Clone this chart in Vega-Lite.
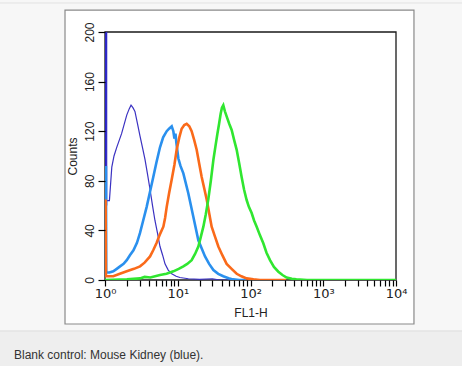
{
  "$schema": "https://vega.github.io/schema/vega-lite/v6.json",
  "width": 291,
  "height": 248,
  "autosize": {"type": "none"},
  "padding": {"left": 105, "top": 32, "right": 66, "bottom": 86},
  "background": "#f7f7f7",
  "config": {
    "view": {"stroke": null},
    "axis": {"domain": false, "grid": false, "tickColor": "#000", "labelColor": "#222", "titleColor": "#222", "labelFont": "Liberation Sans", "titleFont": "Liberation Sans", "titleFontWeight": "normal"}
  },
  "datasets": {
    "one": [{"k": 1}],
    "hist": [
      {"s": "edge", "x": 1.03, "c": 60}, {"s": "edge", "x": 1.031, "c": 215},
      {"s": "blank", "x": 1.03, "c": 215}, {"s": "blank", "x": 1.045, "c": 64}, {"s": "blank", "x": 1.15, "c": 64}, {"s": "blank", "x": 1.24, "c": 91}, {"s": "blank", "x": 1.33, "c": 100}, {"s": "blank", "x": 1.45, "c": 107}, {"s": "blank", "x": 1.69, "c": 118}, {"s": "blank", "x": 1.99, "c": 133}, {"s": "blank", "x": 2.15, "c": 138}, {"s": "blank", "x": 2.28, "c": 141}, {"s": "blank", "x": 2.42, "c": 139}, {"s": "blank", "x": 2.58, "c": 136}, {"s": "blank", "x": 2.8, "c": 126}, {"s": "blank", "x": 3.03, "c": 116}, {"s": "blank", "x": 3.3, "c": 106}, {"s": "blank", "x": 3.55, "c": 97}, {"s": "blank", "x": 3.85, "c": 85}, {"s": "blank", "x": 4.16, "c": 73}, {"s": "blank", "x": 4.5, "c": 60}, {"s": "blank", "x": 4.86, "c": 48}, {"s": "blank", "x": 5.3, "c": 37}, {"s": "blank", "x": 5.7, "c": 27}, {"s": "blank", "x": 6.2, "c": 20}, {"s": "blank", "x": 6.68, "c": 13}, {"s": "blank", "x": 7.4, "c": 8}, {"s": "blank", "x": 8.26, "c": 5}, {"s": "blank", "x": 9.5, "c": 3}, {"s": "blank", "x": 10.7, "c": 2}, {"s": "blank", "x": 14, "c": 1}, {"s": "blank", "x": 20, "c": 0.5}, {"s": "blank", "x": 30, "c": 1}, {"s": "blank", "x": 38, "c": 0}, {"s": "blank", "x": 100, "c": 0},
      {"s": "iso", "x": 1.03, "c": 92}, {"s": "iso", "x": 1.04, "c": 6}, {"s": "iso", "x": 1.15, "c": 6}, {"s": "iso", "x": 1.3, "c": 7}, {"s": "iso", "x": 1.45, "c": 9}, {"s": "iso", "x": 1.61, "c": 11}, {"s": "iso", "x": 1.8, "c": 13}, {"s": "iso", "x": 1.99, "c": 16}, {"s": "iso", "x": 2.2, "c": 20}, {"s": "iso", "x": 2.46, "c": 24}, {"s": "iso", "x": 2.75, "c": 30}, {"s": "iso", "x": 3.03, "c": 38}, {"s": "iso", "x": 3.35, "c": 48}, {"s": "iso", "x": 3.74, "c": 59}, {"s": "iso", "x": 4.15, "c": 71}, {"s": "iso", "x": 4.61, "c": 83}, {"s": "iso", "x": 5.1, "c": 95}, {"s": "iso", "x": 5.7, "c": 107}, {"s": "iso", "x": 6.3, "c": 115}, {"s": "iso", "x": 7.05, "c": 120}, {"s": "iso", "x": 7.6, "c": 122}, {"s": "iso", "x": 8.26, "c": 124}, {"s": "iso", "x": 8.7, "c": 120}, {"s": "iso", "x": 9.0, "c": 114}, {"s": "iso", "x": 9.3, "c": 118}, {"s": "iso", "x": 9.6, "c": 110}, {"s": "iso", "x": 10.2, "c": 98}, {"s": "iso", "x": 10.9, "c": 92}, {"s": "iso", "x": 11.94, "c": 86}, {"s": "iso", "x": 13.96, "c": 70}, {"s": "iso", "x": 16.37, "c": 51}, {"s": "iso", "x": 19.19, "c": 32}, {"s": "iso", "x": 21.5, "c": 25}, {"s": "iso", "x": 23.71, "c": 19}, {"s": "iso", "x": 27, "c": 13}, {"s": "iso", "x": 30.9, "c": 8}, {"s": "iso", "x": 36, "c": 5}, {"s": "iso", "x": 42.27, "c": 3}, {"s": "iso", "x": 50, "c": 1.5}, {"s": "iso", "x": 57.5, "c": 0.5}, {"s": "iso", "x": 70, "c": 0}, {"s": "iso", "x": 87, "c": 0},
      {"s": "low", "x": 1.02, "c": 65}, {"s": "low", "x": 1.03, "c": 3}, {"s": "low", "x": 1.3, "c": 3}, {"s": "low", "x": 1.6, "c": 5}, {"s": "low", "x": 1.99, "c": 7}, {"s": "low", "x": 2.5, "c": 9}, {"s": "low", "x": 3.03, "c": 11}, {"s": "low", "x": 3.5, "c": 14}, {"s": "low", "x": 4.16, "c": 19}, {"s": "low", "x": 4.6, "c": 24}, {"s": "low", "x": 5.13, "c": 30}, {"s": "low", "x": 5.7, "c": 37}, {"s": "low", "x": 6.34, "c": 43}, {"s": "low", "x": 6.7, "c": 50}, {"s": "low", "x": 7.05, "c": 59}, {"s": "low", "x": 7.6, "c": 70}, {"s": "low", "x": 8.26, "c": 81}, {"s": "low", "x": 9.0, "c": 93}, {"s": "low", "x": 9.66, "c": 105}, {"s": "low", "x": 10.5, "c": 115}, {"s": "low", "x": 11.32, "c": 122}, {"s": "low", "x": 12.3, "c": 125}, {"s": "low", "x": 13.27, "c": 126}, {"s": "low", "x": 14.4, "c": 124}, {"s": "low", "x": 15.52, "c": 120}, {"s": "low", "x": 16.8, "c": 113}, {"s": "low", "x": 18.2, "c": 105}, {"s": "low", "x": 19.7, "c": 94}, {"s": "low", "x": 21.33, "c": 83}, {"s": "low", "x": 23.1, "c": 74}, {"s": "low", "x": 25.0, "c": 65}, {"s": "low", "x": 27, "c": 54}, {"s": "low", "x": 29.24, "c": 43}, {"s": "low", "x": 32.5, "c": 35}, {"s": "low", "x": 36.14, "c": 27}, {"s": "low", "x": 41, "c": 20}, {"s": "low", "x": 46.99, "c": 13}, {"s": "low", "x": 55, "c": 9}, {"s": "low", "x": 64.57, "c": 5}, {"s": "low", "x": 75, "c": 3}, {"s": "low", "x": 88.5, "c": 1.3}, {"s": "low", "x": 110, "c": 0.5}, {"s": "low", "x": 134.9, "c": 0}, {"s": "low", "x": 309, "c": 0},
      {"s": "high", "x": 1.0, "c": 0}, {"s": "high", "x": 2, "c": 0.5}, {"s": "high", "x": 3.03, "c": 1.3}, {"s": "high", "x": 3.5, "c": 2.5}, {"s": "high", "x": 4.2, "c": 2}, {"s": "high", "x": 5.7, "c": 4}, {"s": "high", "x": 7, "c": 5}, {"s": "high", "x": 8.71, "c": 7}, {"s": "high", "x": 10.3, "c": 9}, {"s": "high", "x": 11.94, "c": 11}, {"s": "high", "x": 13.5, "c": 13}, {"s": "high", "x": 15.52, "c": 16}, {"s": "high", "x": 17.3, "c": 21}, {"s": "high", "x": 19.19, "c": 27}, {"s": "high", "x": 20.8, "c": 35}, {"s": "high", "x": 22.49, "c": 43}, {"s": "high", "x": 24.3, "c": 53}, {"s": "high", "x": 26.3, "c": 65}, {"s": "high", "x": 28.5, "c": 80}, {"s": "high", "x": 30.9, "c": 97}, {"s": "high", "x": 33, "c": 108}, {"s": "high", "x": 35.08, "c": 118}, {"s": "high", "x": 37, "c": 126}, {"s": "high", "x": 38.9, "c": 134}, {"s": "high", "x": 40.5, "c": 139}, {"s": "high", "x": 42.27, "c": 141}, {"s": "high", "x": 44.5, "c": 136}, {"s": "high", "x": 46.99, "c": 132}, {"s": "high", "x": 51, "c": 126}, {"s": "high", "x": 55.08, "c": 121}, {"s": "high", "x": 59.5, "c": 113}, {"s": "high", "x": 64.57, "c": 105}, {"s": "high", "x": 70, "c": 94}, {"s": "high", "x": 75.5, "c": 83}, {"s": "high", "x": 81.5, "c": 73}, {"s": "high", "x": 88.5, "c": 64.5}, {"s": "high", "x": 95, "c": 59}, {"s": "high", "x": 103.7, "c": 54}, {"s": "high", "x": 112, "c": 48}, {"s": "high", "x": 121.6, "c": 43}, {"s": "high", "x": 135, "c": 36}, {"s": "high", "x": 150, "c": 29.6}, {"s": "high", "x": 166, "c": 22}, {"s": "high", "x": 185.4, "c": 16}, {"s": "high", "x": 210, "c": 10.5}, {"s": "high", "x": 241.5, "c": 6.7}, {"s": "high", "x": 275, "c": 4}, {"s": "high", "x": 314, "c": 2}, {"s": "high", "x": 370, "c": 1}, {"s": "high", "x": 426.6, "c": 0.5}, {"s": "high", "x": 600, "c": 0}, {"s": "high", "x": 10000, "c": 0}
    ]
  },
  "layer": [
    {
      "data": {"name": "one"},
      "mark": {"type": "rect", "fill": "#eeeeee", "stroke": "#dcdcdc", "strokeWidth": 1, "clip": false},
      "encoding": {
        "x": {"datum": 0.01, "type": "quantitative", "scale": {"type": "log", "domain": [1, 10000]}},
        "x2": {"datum": 1000000},
        "y": {"datum": -41.1, "type": "quantitative", "scale": {"domain": [0, 200], "nice": false}},
        "y2": {"datum": -80}
      }
    },
    {
      "data": {"name": "one"},
      "mark": {"type": "rule", "stroke": "#e2e2e2", "strokeWidth": 1, "clip": false},
      "encoding": {
        "x": {"datum": 0.01, "type": "quantitative"},
        "x2": {"datum": 1000000},
        "y": {"datum": 223.4, "type": "quantitative"}
      }
    },
    {
      "data": {"name": "one"},
      "mark": {"type": "text", "align": "left", "baseline": "middle", "fontSize": 12, "font": "Liberation Sans", "color": "#333333", "clip": false},
      "encoding": {
        "x": {"datum": 0.0561, "type": "quantitative"},
        "y": {"datum": -60.5, "type": "quantitative"},
        "text": {"value": "Blank control: Mouse Kidney (blue)."}
      }
    },
    {
      "data": {"name": "one"},
      "mark": {"type": "rect", "fill": "#ffffff", "stroke": "#8a8a8a", "strokeWidth": 1.2, "clip": false},
      "encoding": {
        "x": {"datum": 0.282, "type": "quantitative"},
        "x2": {"datum": 17660},
        "y": {"datum": -35.5, "type": "quantitative"},
        "y2": {"datum": 217.7}
      }
    },
    {
      "data": {"name": "one"},
      "mark": {"type": "rect", "fill": null, "fillOpacity": 0, "stroke": "#1a1a1a", "strokeWidth": 1.3, "clip": false},
      "encoding": {
        "x": {"datum": 1, "type": "quantitative"},
        "x2": {"datum": 10000},
        "y": {"datum": 0, "type": "quantitative"},
        "y2": {"datum": 200}
      }
    },
    {
      "data": {"name": "hist"},
      "mark": {"type": "line", "clip": true},
      "encoding": {
        "x": {
          "field": "x", "type": "quantitative",
          "scale": {"type": "log", "domain": [1, 10000]},
          "axis": {
            "zindex": 1,
            "title": "FL1-H", "titleFontSize": 12, "titlePadding": 7,
            "values": [1,2,3,4,5,6,7,8,9,10,20,30,40,50,60,70,80,90,100,200,300,400,500,600,700,800,900,1000,2000,3000,4000,5000,6000,7000,8000,9000,10000],
            "labelExpr": "datum.value == 1 ? '10⁰' : datum.value == 10 ? '10¹' : datum.value == 100 ? '10²' : datum.value == 1000 ? '10³' : datum.value == 10000 ? '10⁴' : ''",
            "labelOverlap": false, "labelFontSize": 13, "labelFont": "DejaVu Sans", "labelPadding": 1, "labelFlush": false,
            "tickSize": 6, "tickWidth": 1.2,
            "encode": {"ticks": {"update": {"y2": {"signal": "indexof([1,10,100,1000,10000], datum.value) >= 0 ? 6 : 3"}}}}
          }
        },
        "y": {
          "field": "c", "type": "quantitative",
          "scale": {"domain": [0, 200], "nice": false},
          "axis": {
            "zindex": 1,
            "title": "Counts", "titleFontSize": 12, "titlePadding": 4,
            "values": [0,10,20,30,40,50,60,70,80,90,100,110,120,130,140,150,160,170,180,190,200],
            "labelExpr": "datum.value % 40 == 0 ? datum.label : ''",
            "labelAngle": 270, "labelAlign": "center", "labelBaseline": "bottom",
            "labelFontSize": 12, "labelPadding": 2, "labelOverlap": false, "labelFlush": false,
            "tickSize": 7, "tickWidth": 1.2,
            "encode": {"ticks": {"update": {"x2": {"signal": "datum.value % 40 == 0 ? -7 : -5"}}}}
          }
        },
        "detail": {"field": "s"},
        "color": {
          "field": "s", "type": "nominal",
          "scale": {"domain": ["edge", "blank", "iso", "low", "high"], "range": ["#1818cc", "#3b32c2", "#2a90ee", "#fa6a1a", "#30e630"]},
          "legend": null
        },
        "strokeWidth": {
          "condition": {"test": "datum.s == 'blank'", "value": 1.2},
          "value": 2.6
        }
      }
    }
  ]
}
